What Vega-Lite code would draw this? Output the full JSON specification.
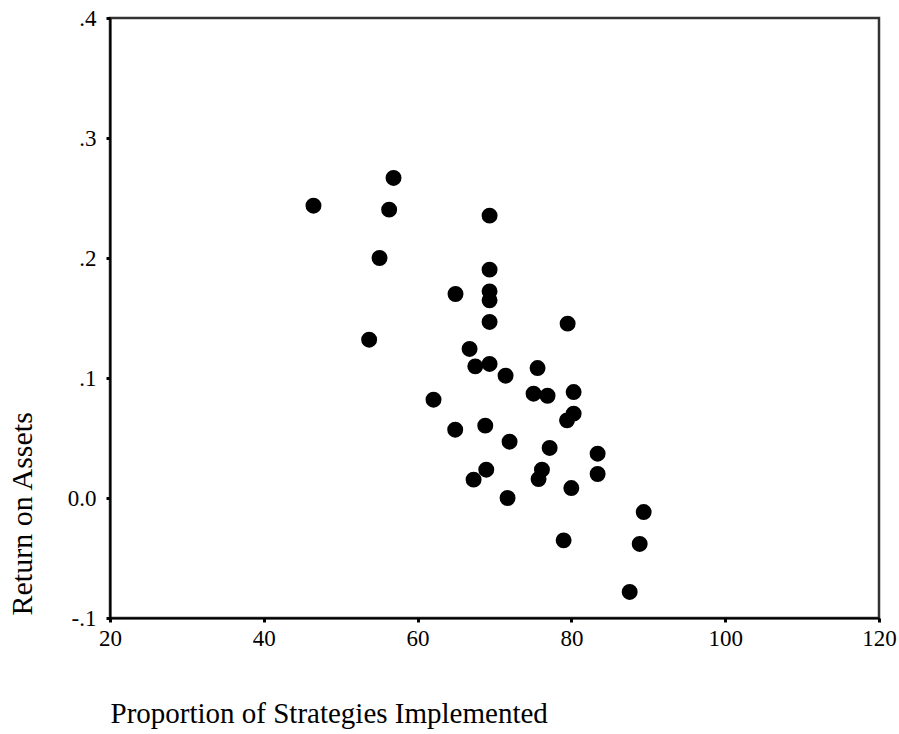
{
  "$schema": "https://vega.github.io/schema/vega-lite/v6.json",
  "width": 769,
  "height": 600,
  "autosize": {"type": "none"},
  "padding": {"left": 110, "top": 18, "right": 20, "bottom": 116},
  "background": "white",
  "config": {
    "view": {"stroke": "#333333", "strokeWidth": 2.5},
    "font": "Liberation Serif"
  },
  "data": {
    "values": [
      {"strategies": 46.46, "roa": 0.2436},
      {"strategies": 56.87, "roa": 0.2667},
      {"strategies": 56.30, "roa": 0.2403},
      {"strategies": 55.05, "roa": 0.2000},
      {"strategies": 53.70, "roa": 0.1319},
      {"strategies": 69.36, "roa": 0.2353},
      {"strategies": 69.36, "roa": 0.1903},
      {"strategies": 64.93, "roa": 0.1700},
      {"strategies": 69.36, "roa": 0.1722},
      {"strategies": 69.36, "roa": 0.1647},
      {"strategies": 69.36, "roa": 0.1467},
      {"strategies": 79.51, "roa": 0.1453},
      {"strategies": 66.76, "roa": 0.1242},
      {"strategies": 67.50, "roa": 0.1097},
      {"strategies": 69.36, "roa": 0.1117},
      {"strategies": 71.44, "roa": 0.1019},
      {"strategies": 75.60, "roa": 0.1083},
      {"strategies": 75.08, "roa": 0.0869},
      {"strategies": 76.90, "roa": 0.0852},
      {"strategies": 80.29, "roa": 0.0883},
      {"strategies": 80.29, "roa": 0.0703},
      {"strategies": 79.43, "roa": 0.0647},
      {"strategies": 62.07, "roa": 0.0819},
      {"strategies": 64.89, "roa": 0.0569},
      {"strategies": 68.80, "roa": 0.0603},
      {"strategies": 71.96, "roa": 0.0469},
      {"strategies": 77.17, "roa": 0.0417},
      {"strategies": 83.41, "roa": 0.0369},
      {"strategies": 83.41, "roa": 0.0200},
      {"strategies": 68.93, "roa": 0.0236},
      {"strategies": 67.28, "roa": 0.0153},
      {"strategies": 76.17, "roa": 0.0236},
      {"strategies": 75.73, "roa": 0.0158},
      {"strategies": 79.99, "roa": 0.0083},
      {"strategies": 71.70, "roa": 0.0000},
      {"strategies": 78.99, "roa": -0.0353},
      {"strategies": 87.58, "roa": -0.0783},
      {"strategies": 89.40, "roa": -0.0117},
      {"strategies": 88.88, "roa": -0.0383}
    ]
  },
  "mark": {"type": "circle", "size": 254, "color": "black", "opacity": 1},
  "encoding": {
    "x": {
      "field": "strategies",
      "type": "quantitative",
      "scale": {"domain": [20, 120], "nice": false, "zero": false},
      "axis": {
        "title": "Proportion of Strategies Implemented",
        "values": [20, 40, 60, 80, 100, 120],
        "grid": false,
        "domainColor": "black",
        "domainWidth": 2,
        "tickColor": "black",
        "tickWidth": 3,
        "tickSize": 4,
        "labelFont": "Liberation Serif",
        "labelFontSize": 23,
        "labelColor": "black",
        "labelPadding": 5,
        "labelFlush": false,
        "titleFont": "Liberation Serif",
        "titleFontSize": 29,
        "titleFontWeight": "normal",
        "titleColor": "black",
        "titleAnchor": "start",
        "titleAlign": "left",
        "titleBaseline": "middle",
        "titleX": 0,
        "titleY": 95
      }
    },
    "y": {
      "field": "roa",
      "type": "quantitative",
      "scale": {"domain": [-0.1, 0.4], "nice": false, "zero": false},
      "axis": {
        "title": "Return on Assets",
        "values": [-0.1, 0, 0.1, 0.2, 0.3, 0.4],
        "labelExpr": "datum.value == 0 ? '0.0' : (datum.value < 0 ? '-' : '') + replace(format(abs(datum.value), '.1f'), '0.', '.')",
        "grid": false,
        "domainColor": "black",
        "domainWidth": 2,
        "tickColor": "black",
        "tickWidth": 3,
        "tickSize": 4,
        "labelFont": "Liberation Serif",
        "labelFontSize": 23,
        "labelColor": "black",
        "labelPadding": 10,
        "labelFlush": false,
        "titleFont": "Liberation Serif",
        "titleFontSize": 30,
        "titleFontWeight": "normal",
        "titleColor": "black",
        "titleAngle": -90,
        "titleAlign": "left",
        "titleBaseline": "middle",
        "titleX": -88,
        "titleY": 597
      }
    }
  }
}
